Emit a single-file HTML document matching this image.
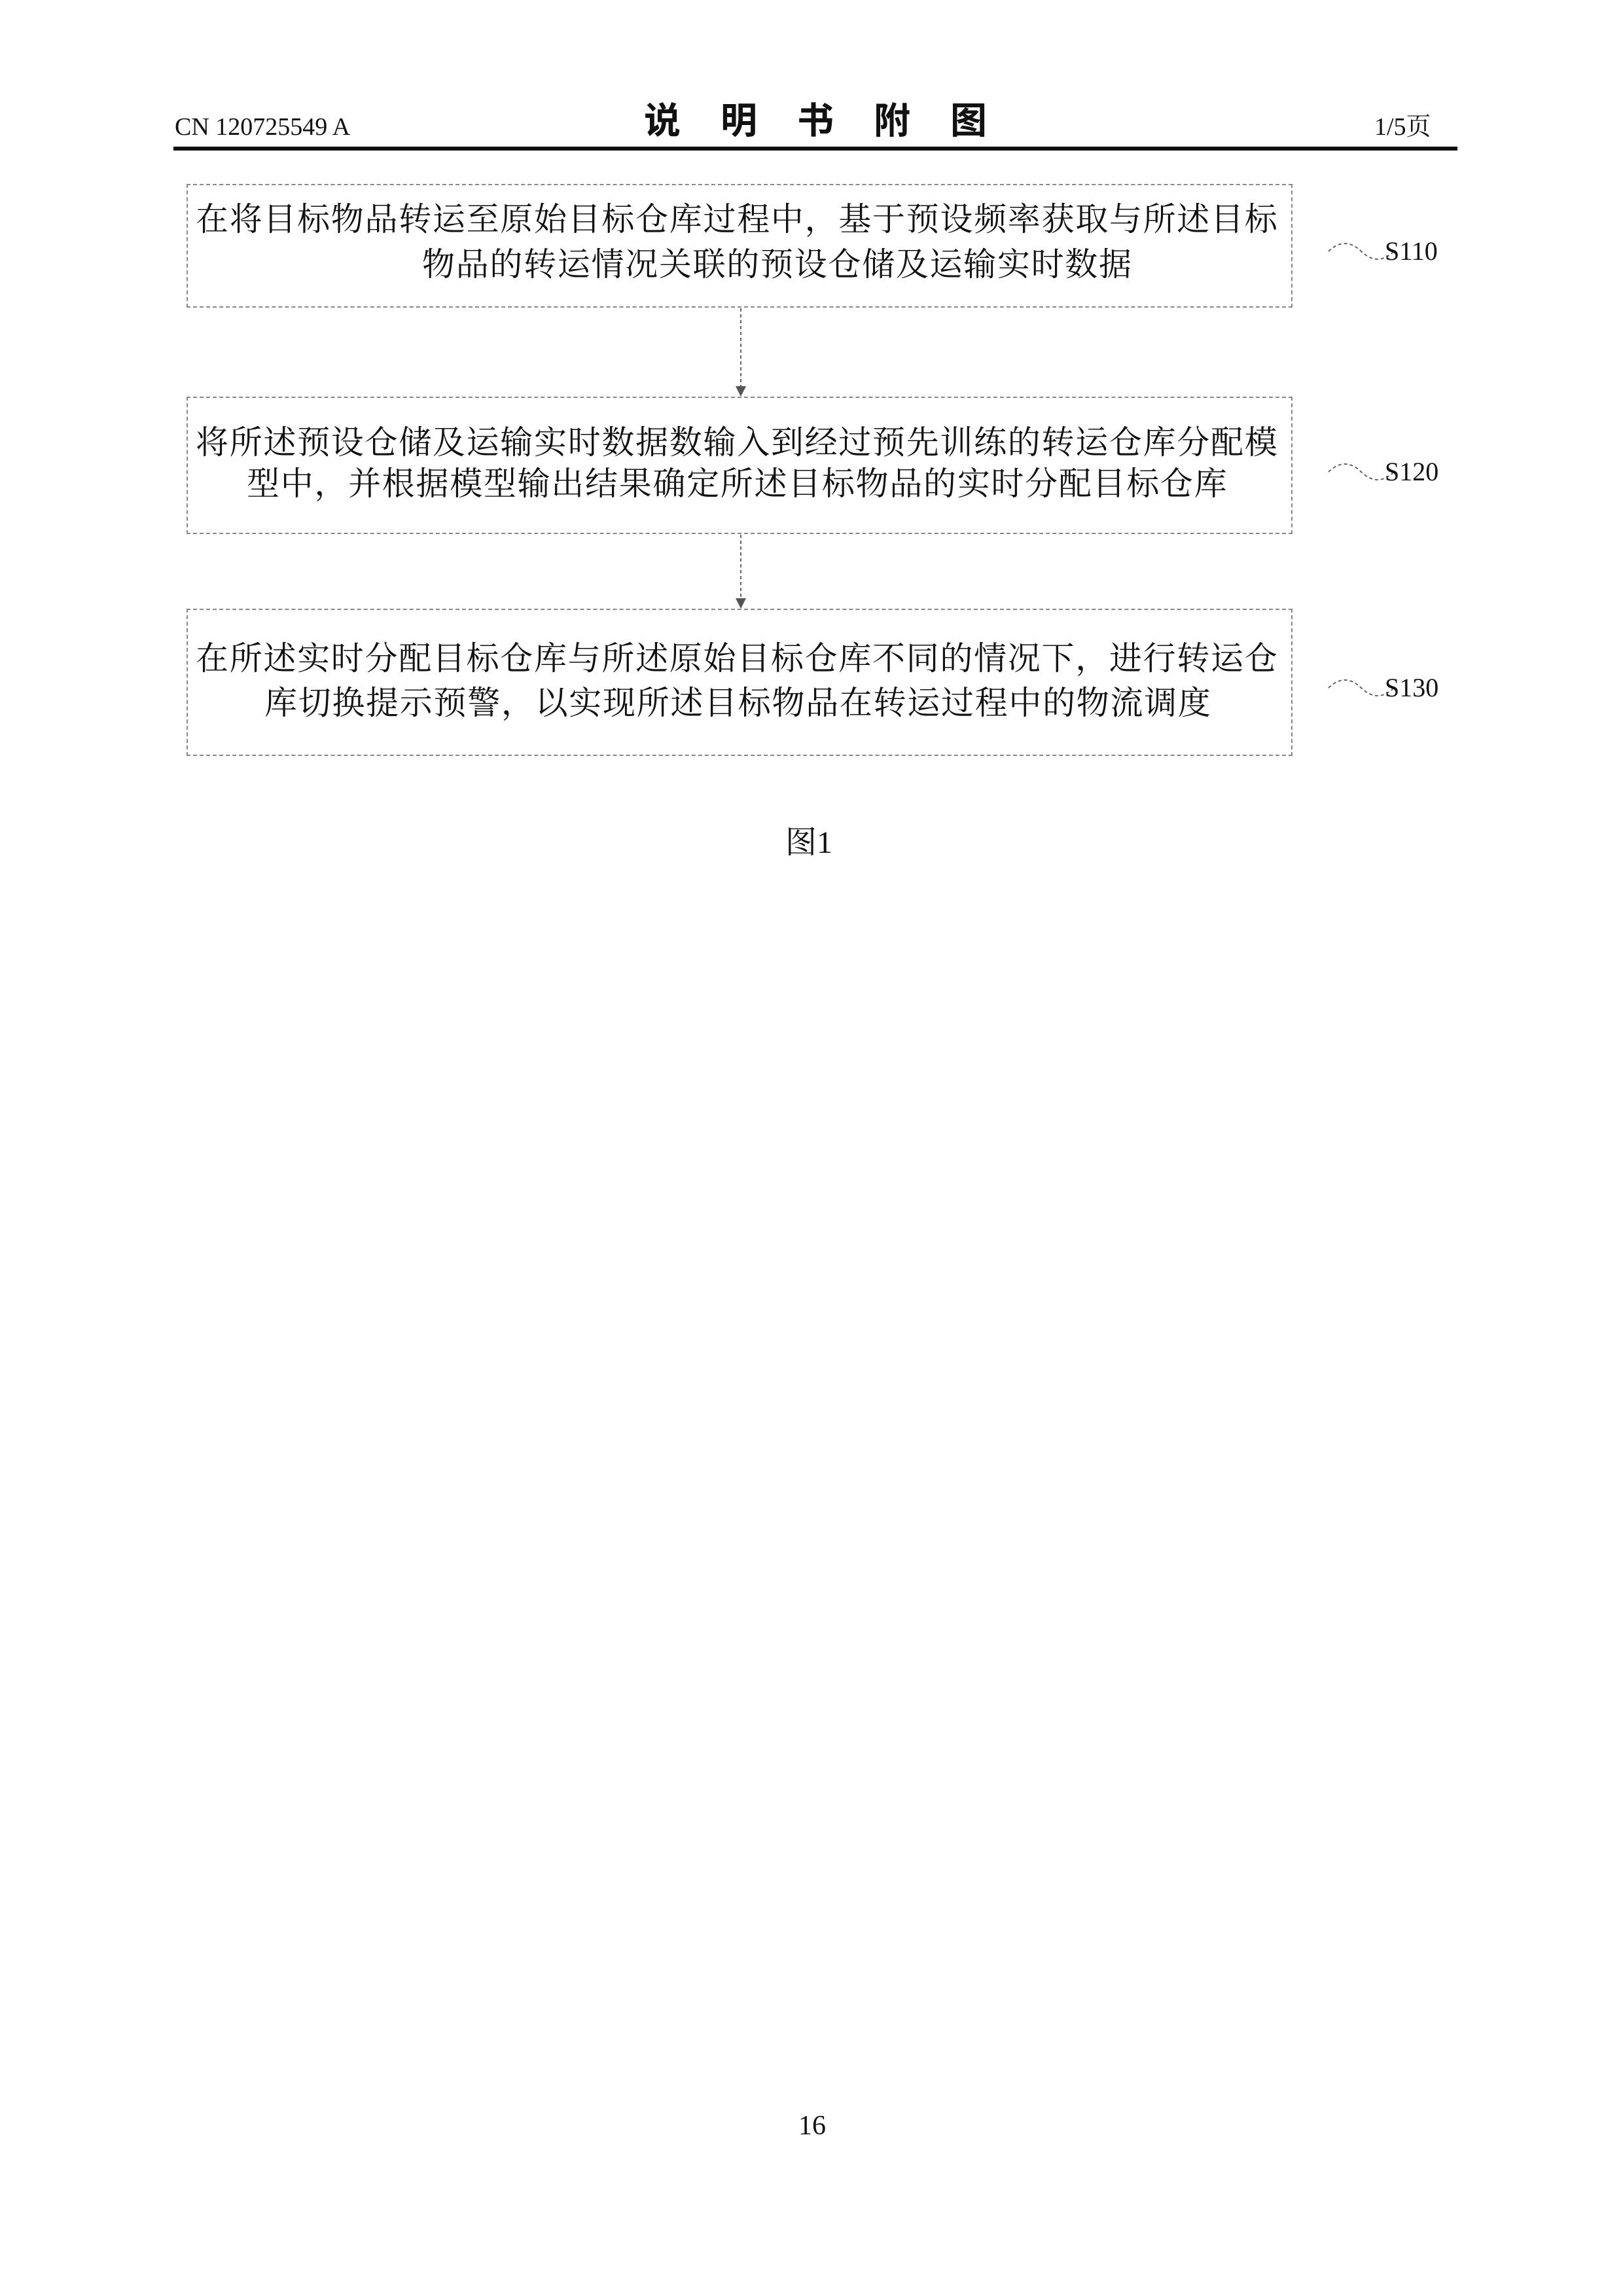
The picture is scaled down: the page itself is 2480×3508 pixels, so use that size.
<!DOCTYPE html>
<html><head><meta charset="utf-8"><style>
body{margin:0;width:2480px;height:3508px;background:#fff;position:relative;font-family:"Liberation Serif","Noto Serif CJK SC",serif;color:#111;overflow:hidden}
.a{position:absolute;white-space:nowrap}
.box{position:absolute;left:285px;width:1690px;border:2px dashed #888;box-sizing:border-box}
.t{position:absolute;white-space:nowrap;font-size:50px;letter-spacing:1.7px;line-height:60px}
.lab{position:absolute;left:2116px;font-size:40px;line-height:40px}
</style></head><body>
<div class="a" style="left:267px;top:172px;font-size:38px;line-height:44px">CN 120725549 A</div>
<div class="a" style="left:984px;top:148px;font-size:56px;line-height:66px;letter-spacing:61px;font-family:'Noto Sans CJK SC',sans-serif;font-weight:bold">说明书附图</div>
<div class="a" style="left:2100px;top:172px;font-size:38px;line-height:44px">1/5页</div>
<div class="a" style="left:265px;top:224px;width:1962px;height:6px;background:#111"></div>

<div class="box" style="top:281px;height:189px"></div>
<div class="t" style="left:299px;top:305px">在将目标物品转运至原始目标仓库过程中，基于预设频率获取与所述目标</div>
<div class="t" style="left:645px;top:374px">物品的转运情况关联的预设仓储及运输实时数据</div>

<div class="box" style="top:606px;height:210px"></div>
<div class="t" style="left:299px;top:646px">将所述预设仓储及运输实时数据数输入到经过预先训练的转运仓库分配模</div>
<div class="t" style="left:377px;top:709px">型中，并根据模型输出结果确定所述目标物品的实时分配目标仓库</div>

<div class="box" style="top:930px;height:225px"></div>
<div class="t" style="left:299px;top:976px">在所述实时分配目标仓库与所述原始目标仓库不同的情况下，进行转运仓</div>
<div class="t" style="left:404px;top:1044px">库切换提示预警，以实现所述目标物品在转运过程中的物流调度</div>

<svg class="a" style="left:0;top:0" width="2480" height="1300">
<g stroke="#666" stroke-width="2" fill="none" stroke-dasharray="5 4">
<line x1="1132" y1="471" x2="1132" y2="596"/>
<line x1="1132" y1="817" x2="1132" y2="920"/>
<path d="M2030 384 q25 -24 50 0 t50 0"/>
<path d="M2030 721 q25 -24 50 0 t50 0"/>
<path d="M2030 1051 q25 -24 50 0 t50 0"/>
</g>
<g fill="#555">
<path d="M1124 590 L1140 590 L1132 606 Z"/>
<path d="M1124 914 L1140 914 L1132 930 Z"/>
</g>
</svg>
<div class="lab" style="top:364px">S110</div>
<div class="lab" style="top:701px">S120</div>
<div class="lab" style="top:1031px">S130</div>

<div class="a" style="left:1200px;top:1260px;font-size:48px;line-height:56px">图1</div>
<div class="a" style="left:1220px;top:3226px;font-size:42px;line-height:44px">16</div>
</body></html>
